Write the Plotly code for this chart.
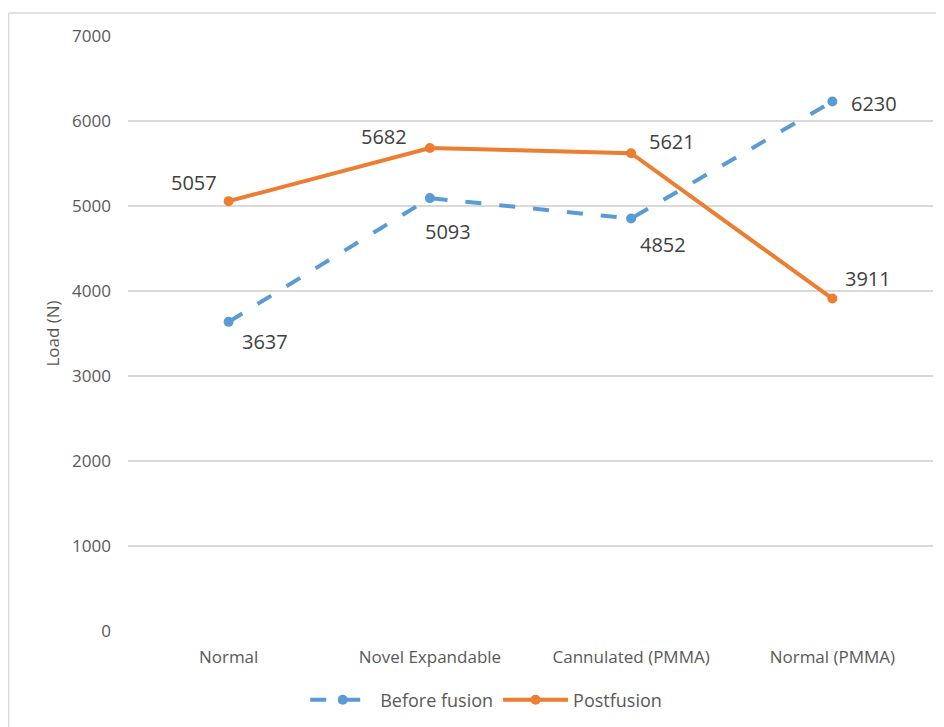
import plotly.graph_objects as go

categories = ["Normal", "Novel Expandable", "Cannulated (PMMA)", "Normal (PMMA)"]
before_fusion = [3637, 5093, 4852, 6230]
postfusion = [5057, 5682, 5621, 3911]
y_ticks = [0, 1000, 2000, 3000, 4000, 5000, 6000, 7000]

# label offsets (pixels) relative to each point
before_offsets = [(36, -20), (18, -33), (32, -26), (42, -2)]
post_offsets = [(-35, 19), (-46, 12), (41, 12), (36, 20)]

blue = "#5B9BD5"
orange = "#ED7D31"
txt = "#404040"
font_family = "Open Sans, Noto Sans, sans-serif"

W, H = 944, 727
ml, mr, mt, mb = 120, 19, 28, 104
pw, ph = W - ml - mr, H - mt - mb

fig = go.Figure()
fig.add_trace(go.Scatter(
    x=categories, y=before_fusion, name="Before fusion",
    mode="lines+markers",
    line=dict(color=blue, width=4, dash="16px,18px"),
    marker=dict(color=blue, size=10),
    cliponaxis=False,
))
fig.add_trace(go.Scatter(
    x=categories, y=postfusion, name="Postfusion",
    mode="lines+markers",
    line=dict(color=orange, width=4),
    marker=dict(color=orange, size=10),
    cliponaxis=False,
))

for vals, offs in ((before_fusion, before_offsets), (postfusion, post_offsets)):
    for c, v, (dx, dy) in zip(categories, vals, offs):
        fig.add_annotation(x=c, y=v, text=str(v), showarrow=False,
                           xanchor="center", yanchor="middle",
                           xshift=dx, yshift=dy,
                           font=dict(size=20, color=txt, family=font_family))

# outer chart border (top and left visible)
x0 = (0.5 - ml) / pw
y1 = 1 + (mt - 5) / ph
fig.add_shape(type="line", xref="paper", yref="paper", x0=x0, x1=(W + 20 - ml) / pw,
              y0=y1, y1=y1, line=dict(color="#D9D9D9", width=1.5))
fig.add_shape(type="line", xref="paper", yref="paper", x0=x0, x1=x0,
              y0=y1, y1=-(mb + 20) / ph, line=dict(color="#D9D9D9", width=1.5))

fig.update_layout(
    width=W, height=H,
    margin=dict(l=ml, r=mr, t=mt, b=mb),
    paper_bgcolor="white", plot_bgcolor="white",
    font=dict(family=font_family, color="#595959", size=17),
    showlegend=True,
    legend=dict(orientation="h", x=0.445, xanchor="center", y=-0.085, yanchor="top",
                font=dict(size=18, color="#595959"), itemwidth=65,
                traceorder="normal"),
    xaxis=dict(type="category", range=[-0.5, 3.5], showgrid=False, showline=False,
               zeroline=False, ticks="", ticklabelstandoff=14,
               tickfont=dict(size=17, color="#595959")),
    yaxis=dict(range=[0, 7000], tickvals=y_ticks, showgrid=True,
               gridcolor="#D9D9D9", gridwidth=1.5, zeroline=False, showline=False,
               ticks="", ticklabelstandoff=16,
               tickfont=dict(size=17, color="#595959"),
               title=dict(text="Load (N)", font=dict(size=17, color="#595959"), standoff=8)),
)

fig.write_html("out.html")
